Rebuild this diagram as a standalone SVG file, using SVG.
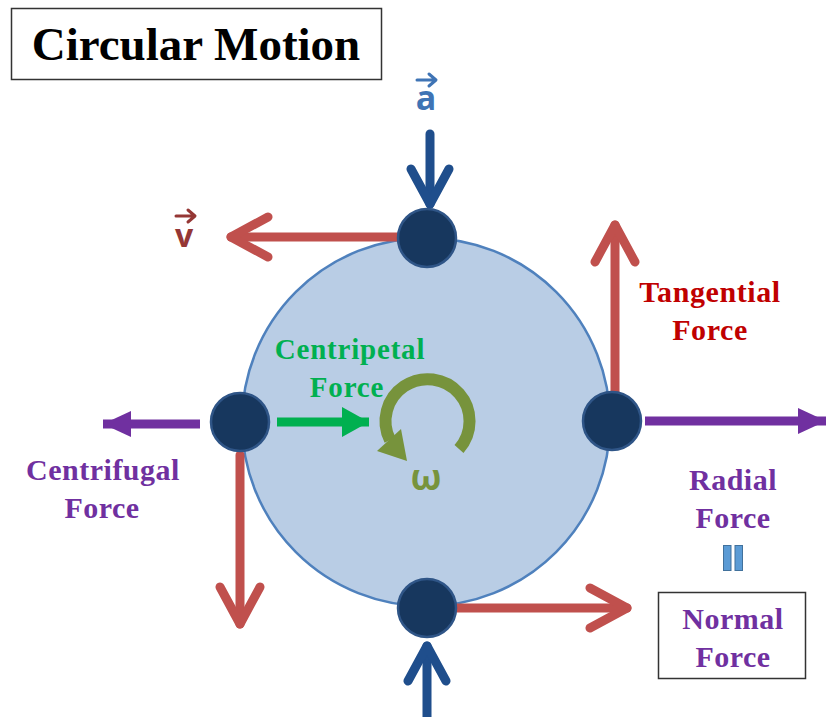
<svg xmlns="http://www.w3.org/2000/svg" width="826" height="717" viewBox="0 0 826 717">
<style>
.lbl{font-family:"Liberation Serif","Times New Roman",serif;font-weight:bold;text-anchor:middle}
.sym{font-family:"Open Sans","DejaVu Sans",sans-serif;font-weight:bold;text-anchor:middle}
.node{fill:#17375e;stroke:#2f5587;stroke-width:2.5}
.red{stroke:#c0504d;stroke-width:9;fill:none;stroke-linecap:round;stroke-linejoin:round}
.blue{stroke:#1f4e8c;stroke-width:9;fill:none;stroke-linecap:round;stroke-linejoin:round}
.pur{stroke:#7030a0;stroke-width:9;fill:none}
.grn{stroke:#00b050;stroke-width:9;fill:none}
</style>
<defs>
<marker id="chevRed" markerUnits="userSpaceOnUse" viewBox="-45 -25 55 50" refX="0" refY="0" markerWidth="55" markerHeight="50" orient="auto">
<path d="M-37,-20 L0,0 L-37,20" fill="none" stroke="#c0504d" stroke-width="9" stroke-linecap="round" stroke-linejoin="round"/>
</marker>
<marker id="chevBlue" markerUnits="userSpaceOnUse" viewBox="-45 -25 55 50" refX="0" refY="0" markerWidth="55" markerHeight="50" orient="auto">
<path d="M-35,-19 L0,0 L-35,19" fill="none" stroke="#1f4e8c" stroke-width="9" stroke-linecap="round" stroke-linejoin="round"/>
</marker>
<marker id="triPur" markerUnits="userSpaceOnUse" viewBox="-30 -16 32 32" refX="0" refY="0" markerWidth="32" markerHeight="32" orient="auto">
<path d="M-28,-13 L0,0 L-28,13 Z" fill="#7030a0"/>
</marker>
<marker id="triGrn" markerUnits="userSpaceOnUse" viewBox="-30 -17 32 34" refX="0" refY="0" markerWidth="32" markerHeight="34" orient="auto">
<path d="M-27,-15 L0,0 L-27,15 Z" fill="#00b050"/>
</marker>
</defs>

<g id="title">
<rect x="11.5" y="8.5" width="370" height="71" fill="#fff" stroke="#333" stroke-width="1.5"/>
<text class="lbl" x="196" y="60" font-size="47" fill="#000">Circular Motion</text>
</g>

<g id="path-circle">
<circle cx="426" cy="422" r="184" fill="#b9cde5" stroke="#4f81bd" stroke-width="2.5"/>
</g>

<g id="connectors">
<line class="blue" x1="430" y1="134" x2="430" y2="204" marker-end="url(#chevBlue)"/>
<line class="red" x1="400" y1="237" x2="231" y2="237" marker-end="url(#chevRed)"/>
<line class="red" x1="615" y1="392" x2="615" y2="225" marker-end="url(#chevRed)"/>
<line class="pur" x1="645" y1="421" x2="826" y2="421" marker-end="url(#triPur)"/>
<line class="red" x1="457" y1="608" x2="627" y2="608" marker-end="url(#chevRed)"/>
<line class="blue" x1="427" y1="717" x2="427" y2="646" marker-end="url(#chevBlue)"/>
<line class="pur" x1="200" y1="424" x2="103" y2="424" marker-end="url(#triPur)"/>
<line class="red" x1="240" y1="455" x2="240" y2="624" marker-end="url(#chevRed)"/>
<line class="grn" x1="277" y1="422" x2="369" y2="422" marker-end="url(#triGrn)"/>
</g>

<g id="omega">
<path d="M459,449 A42,42 0 1 0 390,440" fill="none" stroke="#77933c" stroke-width="12"/>
<path d="M401,429 L377,451 L407,461 Z" fill="#77933c"/>
<text class="sym" x="426" y="490" font-size="36" fill="#77933c">ω</text>
</g>

<g id="node-top"><circle class="node" cx="427" cy="238" r="29"/></g>
<g id="node-left"><circle class="node" cx="240" cy="422" r="29"/></g>
<g id="node-right"><circle class="node" cx="612" cy="421" r="29"/></g>
<g id="node-bottom"><circle class="node" cx="427" cy="608" r="29"/></g>

<g id="label-a">
<text class="sym" x="426" y="110" font-size="34" fill="#3f74b5">a</text>
<path d="M417,80 L435,80 M429,74 L436,80 L429,86" fill="none" stroke="#3f74b5" stroke-width="3" stroke-linecap="round" stroke-linejoin="round"/>
</g>
<g id="label-v">
<text class="sym" x="184" y="247" font-size="32" fill="#953735">v</text>
<path d="M176,216 L194,216 M188,210 L195,216 L188,222" fill="none" stroke="#953735" stroke-width="3" stroke-linecap="round" stroke-linejoin="round"/>
</g>

<g id="label-centripetal">
<text class="lbl" x="350" y="359" font-size="29" fill="#00b050" letter-spacing="0.8">Centripetal</text>
<text class="lbl" x="347" y="397" font-size="29" fill="#00b050" letter-spacing="0.8">Force</text>
</g>
<g id="label-tangential">
<text class="lbl" x="710" y="302" font-size="30" fill="#c00000" letter-spacing="0.6">Tangential</text>
<text class="lbl" x="710" y="340" font-size="30" fill="#c00000" letter-spacing="0.6">Force</text>
</g>
<g id="label-centrifugal">
<text class="lbl" x="103" y="480" font-size="30" fill="#7030a0" letter-spacing="0.5">Centrifugal</text>
<text class="lbl" x="102" y="518" font-size="30" fill="#7030a0" letter-spacing="0.5">Force</text>
</g>
<g id="label-radial">
<text class="lbl" x="733" y="490" font-size="30" fill="#7030a0" letter-spacing="0.5">Radial</text>
<text class="lbl" x="733" y="528" font-size="30" fill="#7030a0" letter-spacing="0.5">Force</text>
</g>
<g id="equals">
<rect x="723.5" y="545.5" width="7.5" height="25" fill="#5b9bd5" stroke="#41719c" stroke-width="1"/>
<rect x="735" y="545.5" width="7.5" height="25" fill="#5b9bd5" stroke="#41719c" stroke-width="1"/>
</g>
<g id="label-normal">
<rect x="658.5" y="592.5" width="147" height="86" fill="#fff" stroke="#333" stroke-width="1.5"/>
<text class="lbl" x="733" y="629" font-size="30" fill="#7030a0" letter-spacing="0.5">Normal</text>
<text class="lbl" x="733" y="667" font-size="30" fill="#7030a0" letter-spacing="0.5">Force</text>
</g>
</svg>
